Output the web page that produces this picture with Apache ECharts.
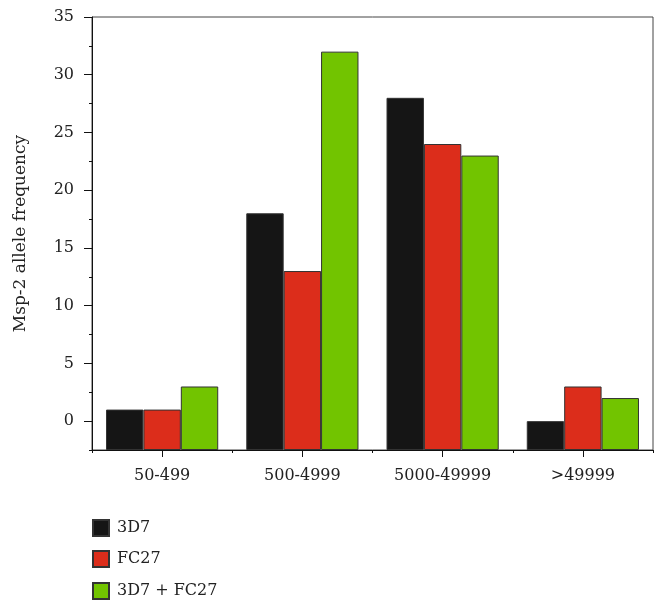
<!DOCTYPE html>
<html>
<head>
<meta charset="utf-8">
<script src="https://cdn.jsdelivr.net/npm/echarts@6/dist/echarts.min.js"></script>
<style>html,body{margin:0;padding:0;background:#fff}#c{width:655px;height:603px}</style>
</head>
<body>
<div id="c"></div>
<script>
const categories = ['50-499', '500-4999', '5000-49999', '>49999'];
const s3D7 = [1, 18, 28, 0];
const sFC27 = [1, 13, 24, 3];
const sMix = [3, 32, 23, 2];
const seriesNames = ['3D7', 'FC27', '3D7 + FC27'];
const yMajorTicks = [0, 5, 10, 15, 20, 25, 30, 35];
const yMinorTicks = [-2.5, 2.5, 7.5, 12.5, 17.5, 22.5, 27.5, 32.5];

const FONT = 'DejaVu Serif';
const colors = ['#151515', '#dc2d1b', '#72c400'];
const chart = echarts.init(document.getElementById('c'));
const mk = (name, data, color) => ({
  name, type: 'bar', data, xAxisIndex: 0, yAxisIndex: 0,
  barGap: '0%', barCategoryGap: '20%',
  itemStyle: { color, borderColor: '#333', borderWidth: 1 }
});
chart.setOption({
  animation: false,
  textStyle: { fontFamily: FONT },
  grid: { left: 92, right: 2, top: 17, bottom: 153, show: true, borderColor: '#444', borderWidth: 1 },
  legend: [0, 1, 2].map(i => ({
    data: [seriesNames[i]], left: 87, top: [514, 545, 577][i], orient: 'vertical',
    icon: 'rect', itemWidth: 16, itemHeight: 16, itemGap: 10,
    textStyle: { fontFamily: FONT, fontSize: 16, color: '#222', padding: [0, 0, 0, 3] }
  })),
  xAxis: [{
    type: 'category', data: categories, position: 'bottom',
    axisLine: { onZero: false, lineStyle: { color: '#111', width: 1 } },
    axisTick: { show: true, alignWithLabel: false, length: 3, lineStyle: { color: '#111' } },
    axisLabel: { fontFamily: FONT, fontSize: 16, color: '#222', margin: 18 }
  }, {
    type: 'category', data: categories, position: 'bottom', gridIndex: 0,
    axisLine: { show: false, onZero: false },
    axisTick: { show: true, alignWithLabel: true, length: 7, lineStyle: { color: '#111' } },
    axisLabel: { show: false }
  }],
  yAxis: [{
    type: 'value', min: -2.5, max: 35, startValue: -2.5,
    name: 'Msp-2 allele frequency', nameLocation: 'middle', nameGap: 63,
    nameTextStyle: { fontFamily: FONT, fontSize: 17, color: '#222' },
    axisLine: { show: true, onZero: false, lineStyle: { color: '#111' } },
    axisTick: { show: true, length: 8, customValues: yMajorTicks, lineStyle: { color: '#111' } },
    axisLabel: { fontFamily: FONT, fontSize: 16, color: '#222', margin: 18, customValues: yMajorTicks },
    splitLine: { show: false }
  }, {
    type: 'value', min: -2.5, max: 35, position: 'left',
    axisLine: { show: false, onZero: false },
    axisTick: { show: true, length: 3, customValues: yMinorTicks, lineStyle: { color: '#111' } },
    axisLabel: { show: false },
    splitLine: { show: false }
  }],
  series: [mk(seriesNames[0], s3D7, colors[0]), mk(seriesNames[1], sFC27, colors[1]), mk(seriesNames[2], sMix, colors[2])]
});
</script>
</body>
</html>
